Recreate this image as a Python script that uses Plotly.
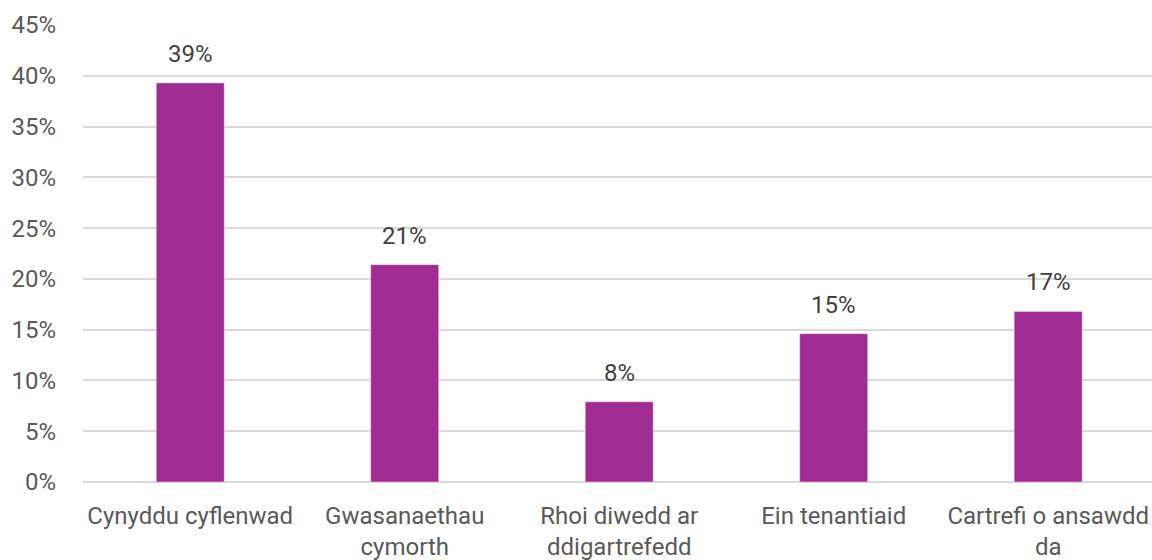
import plotly.graph_objects as go

CATEGORIES = [
    "Cynyddu cyflenwad",
    "Gwasanaethau<br>cymorth",
    "Rhoi diwedd ar<br>ddigartrefedd",
    "Ein tenantiaid",
    "Cartrefi o ansawdd<br>da",
]
VALUES = [0.393, 0.214, 0.079, 0.146, 0.168]
LABELS = ["39%", "21%", "8%", "15%", "17%"]

BAR_COLOR = "#A02B93"
FONT = "Roboto, Open Sans, Arial, sans-serif"

fig = go.Figure(
    go.Bar(
        x=CATEGORIES,
        y=VALUES,
        marker_color=BAR_COLOR,
        hovertemplate="%{x}: %{y:.0%}<extra></extra>",
    )
)

# data labels sit well above the bars, as in the original
for cat, val, label in zip(CATEGORIES, VALUES, LABELS):
    fig.add_annotation(
        x=cat,
        y=val,
        text=label,
        showarrow=False,
        yanchor="bottom",
        yshift=13,
        font=dict(size=24, color="#404040", family=FONT),
    )

fig.update_layout(
    width=1152,
    height=560,
    margin=dict(l=83, r=0, t=25, b=78, autoexpand=False),
    plot_bgcolor="white",
    paper_bgcolor="white",
    bargap=0.683,
    showlegend=False,
    font=dict(family=FONT, size=24, color="#595959"),
)
# the plot area runs slightly past the right edge of the picture
fig.update_xaxes(
    range=[-0.5, 4.484],
    showgrid=False,
    showline=False,
    ticks="",
    tickangle=0,
    ticklabelstandoff=17,
)
fig.update_yaxes(
    range=[0, 0.45],
    dtick=0.05,
    tickformat=".0%",
    gridcolor="#D9D9D9",
    gridwidth=1.5,
    zeroline=True,
    zerolinecolor="#D9D9D9",
    zerolinewidth=1.5,
    showline=False,
    ticklabelstandoff=26,
)

fig.write_html(
    "out.html",
    config={"displayModeBar": False},
    post_script="document.body.style.margin = '0';",
)
